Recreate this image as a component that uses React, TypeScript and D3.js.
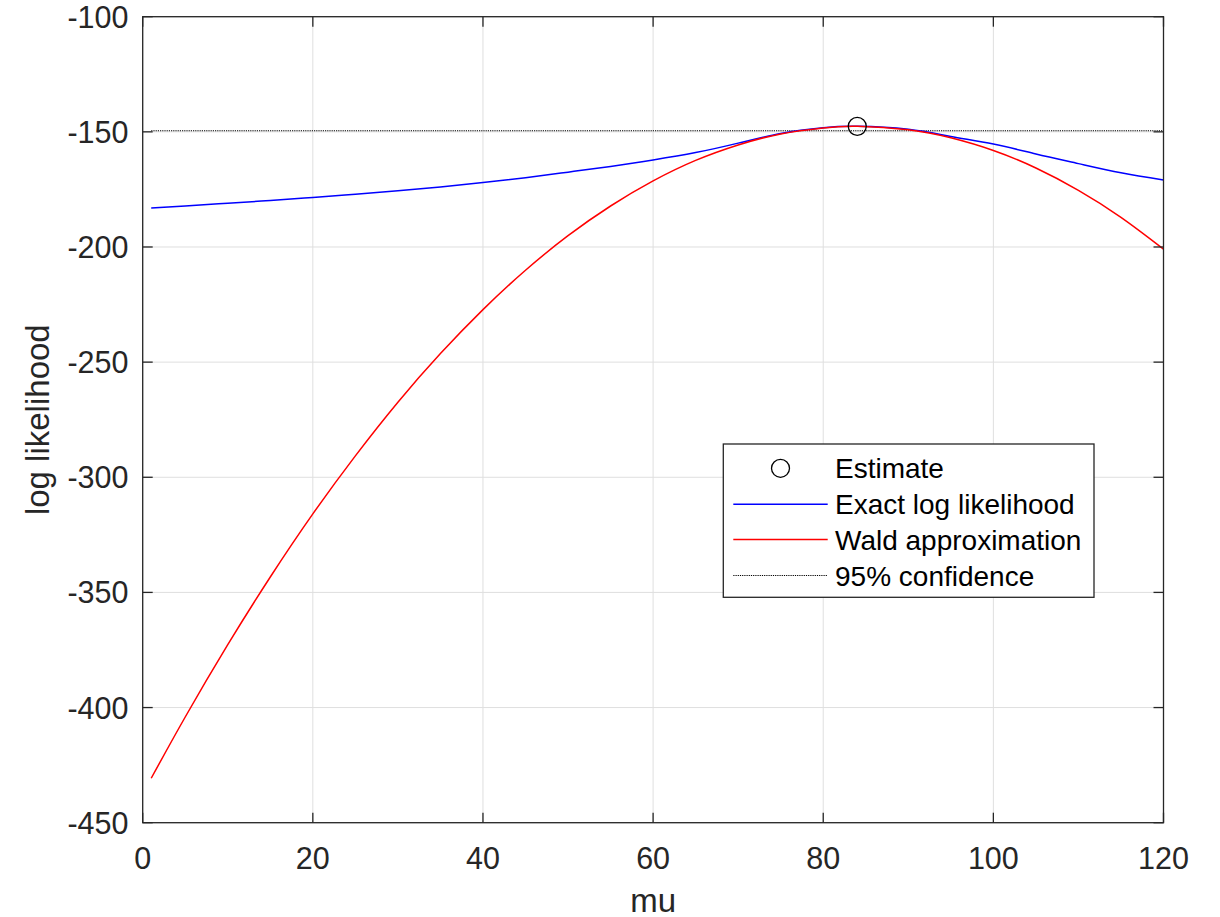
import React from "react";
import * as d3 from "d3";

const muValues = [1, 5, 10, 15, 20, 25, 30, 35, 40, 45, 50, 55, 60, 65, 70, 75, 80, 84, 90, 95, 100, 105, 110, 115, 120];
const exactLogLik = [-183.1, -182.2, -181.0, -179.8, -178.5, -177.1, -175.6, -173.9, -172.0, -169.9, -167.5, -165.0, -162.2, -159.0, -154.9, -150.7, -148.2, -147.6, -148.9, -152.0, -155.3, -159.6, -163.8, -167.8, -170.9];
const waldApprox = [-430.7, -404.1, -372.7, -343.3, -315.9, -290.7, -267.4, -246.3, -227.2, -210.1, -195.1, -182.2, -171.3, -162.4, -155.7, -150.9, -148.3, -147.6, -149.1, -152.6, -158.1, -165.7, -175.4, -187.1, -200.9];
const estimateMu = [84];
const estimateLL = [-147.6];
const confidenceMu = [1, 120];
const confidenceLL = [-149.5, -149.5];
const xTicks = [0, 20, 40, 60, 80, 100, 120];
const yTicks = [-450, -400, -350, -300, -250, -200, -150, -100];
const legendLabels = ["Estimate", "Exact log likelihood", "Wald approximation", "95% confidence"];

const W = 1220;
const H = 917;
const L = 142.7, R = 1163.5, T = 16.7, B = 822.7;
const FONT = "'Liberation Sans', Arial, Helvetica, sans-serif";
const AX = "#262626";

export default function App() {
  const x = d3.scaleLinear().domain([0, 120]).range([L, R]);
  const y = d3.scaleLinear().domain([-450, -100]).range([B, T]);
  const line = d3
    .line<[number, number]>()
    .x((d) => x(d[0]))
    .y((d) => y(d[1]))
    .curve(d3.curveNatural);
  const straight = d3.line<[number, number]>().x((d) => x(d[0])).y((d) => y(d[1]));

  const exactPts = muValues.map((m, i) => [m, exactLogLik[i]] as [number, number]);
  const waldPts = muValues.map((m, i) => [m, waldApprox[i]] as [number, number]);
  const confPts = confidenceMu.map((m, i) => [m, confidenceLL[i]] as [number, number]);

  const tickLen = 10;
  const grid = "#dfdfdf";

  const legX = 723.3, legY = 444, legW = 370.7, legH = 153.3;
  const rowY = [468.3, 504.3, 539.5, 575.5];
  const sampleX1 = 733.3, sampleX2 = 827.7, textX = 835;

  return (
    <svg width={W} height={H} style={{ position: "absolute", left: 0, top: 0, background: "#fff" }} fontFamily={FONT}>
      <rect x={0} y={0} width={W} height={H} fill="#fff" />
      {/* grid */}
      {xTicks.map((t) => (
        <line key={"gx" + t} x1={x(t)} x2={x(t)} y1={T} y2={B} stroke={grid} strokeWidth={1} />
      ))}
      {yTicks.map((t) => (
        <line key={"gy" + t} x1={L} x2={R} y1={y(t)} y2={y(t)} stroke={grid} strokeWidth={1} />
      ))}
      {/* data */}
      <path d={straight(confPts) || ""} fill="none" stroke="#000" strokeWidth={1.1} strokeDasharray="1.2 1" />
      <path d={line(exactPts) || ""} fill="none" stroke="#0000ff" strokeWidth={1.5} />
      <path d={line(waldPts) || ""} fill="none" stroke="#ff0000" strokeWidth={1.5} />
      {estimateMu.map((m, i) => (
        <circle key={"e" + i} cx={x(m)} cy={y(estimateLL[i])} r={9} fill="none" stroke="#000" strokeWidth={1.3} />
      ))}
      {/* ticks */}
      {xTicks.map((t) => (
        <g key={"tx" + t}>
          <line x1={x(t)} x2={x(t)} y1={B} y2={B - tickLen} stroke={AX} strokeWidth={1.3} />
          <line x1={x(t)} x2={x(t)} y1={T} y2={T + tickLen} stroke={AX} strokeWidth={1.3} />
          <text x={x(t)} y={868.5} textAnchor="middle" fontSize={30.5} fill={AX}>
            {t}
          </text>
        </g>
      ))}
      {yTicks.map((t) => (
        <g key={"ty" + t}>
          <line x1={L} x2={L + tickLen} y1={y(t)} y2={y(t)} stroke={AX} strokeWidth={1.3} />
          <line x1={R} x2={R - tickLen} y1={y(t)} y2={y(t)} stroke={AX} strokeWidth={1.3} />
          <text x={128.5} y={y(t) + 11} textAnchor="end" fontSize={30.5} fill={AX}>
            {t}
          </text>
        </g>
      ))}
      {/* box */}
      <rect x={L} y={T} width={R - L} height={B - T} fill="none" stroke={AX} strokeWidth={1.3} />
      {/* axis labels */}
      <text x={(L + R) / 2} y={911.5} textAnchor="middle" fontSize={33} fill={AX}>
        mu
      </text>
      <text
        transform={`translate(${49},${(T + B) / 2}) rotate(-90)`}
        textAnchor="middle"
        fontSize={33}
        fill={AX}
      >
        log likelihood
      </text>
      {/* legend */}
      <rect x={legX} y={legY} width={legW} height={legH} fill="#fff" stroke={AX} strokeWidth={1.3} />
      <circle cx={(sampleX1 + sampleX2) / 2} cy={rowY[0]} r={9} fill="none" stroke="#000" strokeWidth={1.3} />
      <line x1={sampleX1} x2={sampleX2} y1={rowY[1]} y2={rowY[1]} stroke="#0000ff" strokeWidth={1.5} />
      <line x1={sampleX1} x2={sampleX2} y1={rowY[2]} y2={rowY[2]} stroke="#ff0000" strokeWidth={1.5} />
      <line x1={sampleX1} x2={sampleX2} y1={rowY[3]} y2={rowY[3]} stroke="#000" strokeWidth={1.1} strokeDasharray="1.2 1" />
      {legendLabels.map((lab, i) => (
        <text key={lab} x={textX} y={rowY[i] + 10} fontSize={28} fill="#000">
          {lab}
        </text>
      ))}
    </svg>
  );
}
